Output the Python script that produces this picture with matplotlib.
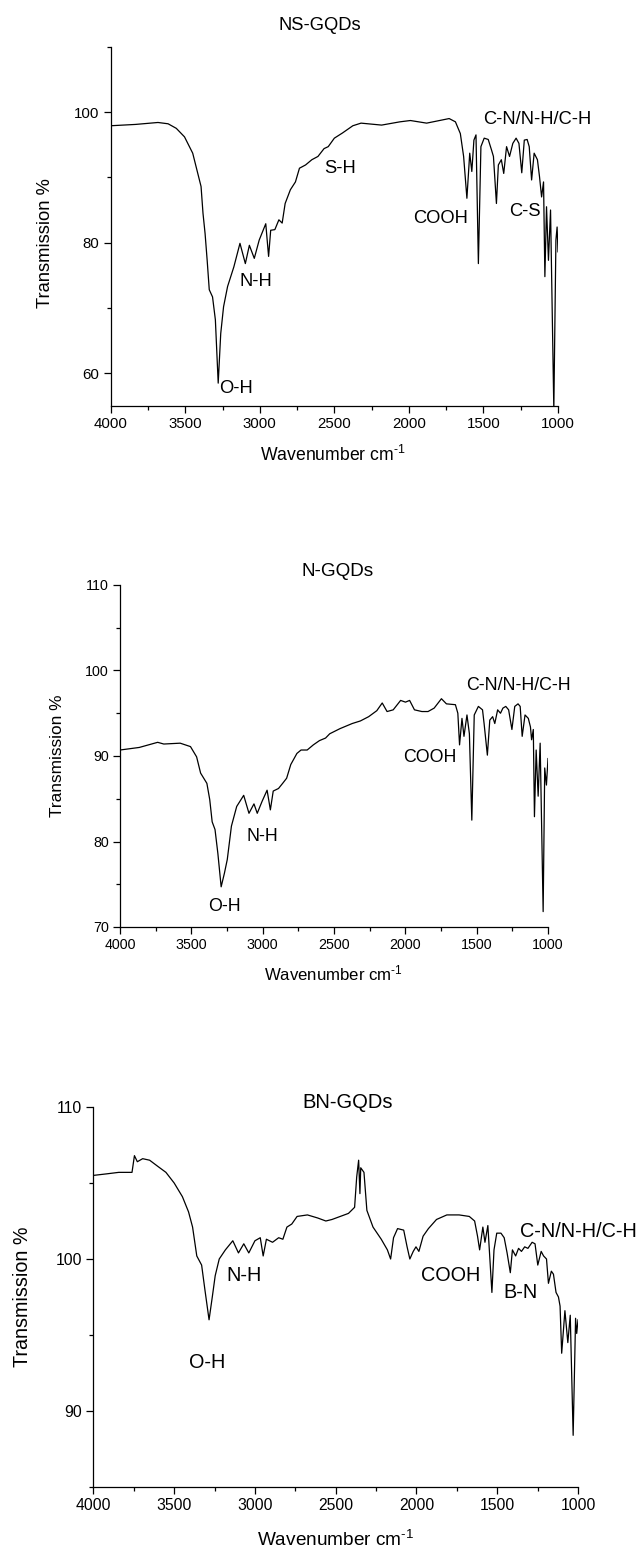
import matplotlib
matplotlib.use("Agg")
import matplotlib.pyplot as plt
from matplotlib.ticker import MultipleLocator

plt.rcParams['font.family'] = ['Liberation Sans', 'DejaVu Sans']
plt.rcParams['mathtext.fontset'] = 'custom'
plt.rcParams['mathtext.rm'] = 'Liberation Sans'
plt.rcParams['mathtext.it'] = 'Liberation Sans'

# NS-GQDs spectrum (wavenumber, transmission %)
ns_wn = [4000, 3835, 3683, 3615, 3560, 3505, 3450, 3394, 3381, 3367, 3353, 3339,
         3317, 3298, 3279, 3262, 3243, 3216, 3174, 3133, 3097, 3070, 3037, 3004,
         2960, 2941, 2927, 2899, 2872, 2850, 2830, 2795, 2761, 2734, 2693, 2651,
         2610, 2569, 2541, 2500, 2445, 2376, 2321, 2183, 2060, 1990, 1881, 1730,
         1688, 1655, 1633, 1611, 1592, 1578, 1564, 1550, 1534, 1517, 1495, 1468,
         1446, 1433, 1413, 1400, 1380, 1364, 1345, 1325, 1303, 1281, 1262, 1243,
         1226, 1207, 1193, 1177, 1160, 1138, 1124, 1110, 1097, 1088, 1077, 1064,
         1050, 1028, 1014, 1006, 1000]
ns_t = [97.9, 98.1, 98.4, 98.2, 97.5, 96.2, 93.7, 88.6, 84.5, 81.4, 77.3, 72.8,
        71.7, 68.2, 58.5, 66.1, 70.2, 73.3, 76.3, 79.9, 76.8, 79.6, 77.6, 80.4,
        82.9, 77.9, 81.9, 82.0, 83.5, 83.0, 86.0, 88.1, 89.3, 91.4, 91.9, 92.7,
        93.2, 94.4, 94.7, 96.0, 96.8, 97.9, 98.3, 98.0, 98.5, 98.7, 98.3, 99.0,
        98.5, 96.7, 93.2, 86.8, 93.7, 90.9, 95.7, 96.5, 76.8, 94.7, 96.0, 95.8,
        94.2, 93.2, 86.0, 91.9, 92.7, 90.6, 94.7, 93.2, 95.2, 96.0, 95.2, 90.7,
        95.7, 95.8, 94.7, 89.6, 93.7, 92.7, 90.1, 87.0, 89.3, 74.8, 85.5, 77.3,
        85.0, 54.5, 80.4, 82.4, 78.6]

# N-GQDs spectrum
n_wn = [4000, 3865, 3736, 3693, 3578, 3506, 3463, 3435, 3391, 3371, 3354, 3334,
        3314, 3291, 3268, 3248, 3219, 3182, 3133, 3096, 3061, 3038, 3004, 2969,
        2946, 2926, 2889, 2860, 2832, 2803, 2760, 2731, 2688, 2645, 2602, 2559,
        2530, 2458, 2372, 2315, 2257, 2200, 2162, 2128, 2085, 2033, 1999, 1970,
        1936, 1884, 1841, 1798, 1747, 1712, 1649, 1632, 1620, 1603, 1589, 1568,
        1551, 1534, 1517, 1488, 1459, 1448, 1425, 1408, 1388, 1373, 1353, 1333,
        1316, 1296, 1276, 1253, 1233, 1210, 1195, 1181, 1161, 1138, 1123, 1115,
        1103, 1095, 1083, 1069, 1055, 1034, 1023, 1011, 1006, 1000]
n_t = [90.7, 91.0, 91.6, 91.4, 91.5, 91.1, 89.9, 88.0, 86.8, 84.9, 82.3, 81.4,
       78.6, 74.7, 76.3, 77.9, 81.8, 84.1, 85.4, 83.3, 84.4, 83.3, 84.7, 86.0,
       83.7, 85.9, 86.2, 86.8, 87.4, 89.0, 90.3, 90.7, 90.7, 91.3, 91.8, 92.1,
       92.6, 93.2, 93.8, 94.1, 94.6, 95.3, 96.2, 95.2, 95.4, 96.5, 96.3, 96.5,
       95.4, 95.2, 95.2, 95.6, 96.7, 96.1, 96.0, 95.0, 91.3, 94.4, 92.3, 94.8,
       92.6, 82.5, 94.8, 95.8, 95.4, 93.8, 90.1, 94.2, 94.6, 93.8, 95.4, 95.0,
       95.6, 95.8, 95.4, 93.1, 95.8, 96.1, 95.8, 92.3, 94.8, 94.4, 93.4, 91.9,
       93.1, 82.9, 90.7, 85.3, 91.5, 71.8, 88.6, 86.6, 88.0, 89.7]

# BN-GQDs spectrum
bn_wn = [4000, 3919, 3843, 3761, 3746, 3728, 3695, 3652, 3602, 3551, 3500, 3449,
         3411, 3386, 3360, 3330, 3310, 3284, 3264, 3246, 3221, 3183, 3137, 3102,
         3069, 3038, 3000, 2967, 2949, 2929, 2891, 2853, 2827, 2802, 2772, 2739,
         2675, 2612, 2561, 2523, 2472, 2421, 2383, 2370, 2358, 2350, 2345, 2325,
         2307, 2269, 2218, 2180, 2160, 2142, 2117, 2079, 2058, 2041, 2020, 2003,
         1985, 1959, 1926, 1876, 1812, 1736, 1673, 1640, 1622, 1609, 1589, 1576,
         1558, 1533, 1520, 1503, 1477, 1457, 1439, 1419, 1406, 1386, 1368, 1350,
         1330, 1310, 1284, 1266, 1249, 1228, 1213, 1195, 1183, 1165, 1152, 1136,
         1121, 1111, 1101, 1081, 1063, 1048, 1030, 1015, 1008, 1000]
bn_t = [105.5, 105.6, 105.7, 105.7, 106.8, 106.4, 106.6, 106.5, 106.1, 105.7,
        105.0, 104.1, 103.1, 102.1, 100.2, 99.6, 98.0, 96.0, 97.5, 98.9, 100.0,
        100.6, 101.2, 100.4, 101.0, 100.4, 101.2, 101.4, 100.2, 101.3, 101.1,
        101.4, 101.3, 102.1, 102.3, 102.8, 102.9, 102.7, 102.5, 102.6, 102.8,
        103.0, 103.4, 105.4, 106.5, 104.3, 106.0, 105.7, 103.2, 102.1, 101.3,
        100.6, 100.0, 101.4, 102.0, 101.9, 100.8, 100.0, 100.5, 100.8, 100.5,
        101.5, 102.0, 102.6, 102.9, 102.9, 102.8, 102.5, 101.5, 100.6, 102.1,
        101.1, 102.2, 97.8, 100.6, 101.7, 101.7, 101.4, 100.4, 99.1, 100.6,
        100.2, 100.7, 100.5, 100.8, 100.7, 101.1, 101.0, 99.6, 100.5, 100.2,
        100.0, 98.4, 99.2, 99.0, 97.8, 97.5, 96.9, 93.8, 96.6, 94.5, 96.3, 88.4,
        96.1, 95.1, 96.0]

ns_labels = [("O-H", 3162, 57.7), ("N-H", 3026, 74.0), ("S-H", 2462, 91.4),
             ("COOH", 1787, 83.7), ("C-S", 1224, 84.7),
             ("C-N/N-H/C-H", 1141, 98.8)]
n_labels = [("O-H", 3267, 72.4), ("N-H", 3003, 80.6), ("COOH", 1831, 89.8),
            ("C-N/N-H/C-H", 1207, 98.2)]
bn_labels = [("O-H", 3297, 93.2), ("N-H", 3069, 98.9), ("COOH", 1787, 98.9),
             ("B-N", 1355, 97.8), ("C-N/N-H/C-H", 1000, 101.8)]

W, H = 643, 1567
fig = plt.figure(figsize=(W / 100, H / 100), dpi=100)

XLABEL = r"Wavenumber cm$^{\text{-1}}$"


def px_axes(l, t, r, b):
    return fig.add_axes([l / W, 1 - b / H, (r - l) / W, (b - t) / H])


def panel(ax, wn, t, ylim, major, minor, labels, fs):
    ax.plot(wn, t, color='black', lw=0.9)
    ax.set_xlim(4000, 1000)
    ax.set_ylim(*ylim)
    ax.xaxis.set_major_locator(MultipleLocator(500))
    ax.xaxis.set_minor_locator(MultipleLocator(250))
    ax.yaxis.set_major_locator(MultipleLocator(major))
    ax.yaxis.set_minor_locator(MultipleLocator(minor))
    for s in ('top', 'right'):
        ax.spines[s].set_visible(False)
    for s in ('left', 'bottom'):
        ax.spines[s].set_linewidth(0.9)
    ax.tick_params(which='major', direction='out', length=5, width=0.9,
                   labelsize=fs['tick'], pad=3)
    ax.tick_params(which='minor', direction='out', length=3, width=0.9)
    for txt, x, y in labels:
        ax.text(x, y, txt, ha='center', va='center', fontsize=fs['ann'],
                clip_on=False)


ax1 = px_axes(110.7, 46.7, 558, 406)
panel(ax1, ns_wn, ns_t, (55, 110), 20, 10, ns_labels,
      {'tick': 10.8, 'ann': 13.2})
ax1.set_yticks([60, 80, 100])
fig.text(320 / W, 1 - 25 / H, "NS-GQDs", ha='center', va='center', fontsize=13.2)
fig.text(45 / W, 1 - 243 / H, "Transmission %", rotation=90, ha='center',
         va='center', fontsize=13.2)
fig.text(333 / W, 1 - 455 / H, XLABEL, ha='center', va='center', fontsize=12.7)

ax2 = px_axes(120, 585, 548, 927)
panel(ax2, n_wn, n_t, (70, 110), 10, 5, n_labels,
      {'tick': 10.3, 'ann': 12.8})
fig.text(338 / W, 1 - 571 / H, "N-GQDs", ha='center', va='center', fontsize=13.6)
fig.text(57 / W, 1 - 756 / H, "Transmission %", rotation=90, ha='center',
         va='center', fontsize=12.4)
fig.text(333 / W, 1 - 973 / H, XLABEL, ha='center', va='center', fontsize=12.1)

ax3 = px_axes(93.4, 1107, 578, 1487)
panel(ax3, bn_wn, bn_t, (85, 110), 10, 5, bn_labels,
      {'tick': 11.3, 'ann': 14.3})
fig.text(348 / W, 1 - 1102 / H, "BN-GQDs", ha='center', va='center', fontsize=14.5)
fig.text(22.5 / W, 1 - 1297 / H, "Transmission %", rotation=90, ha='center',
         va='center', fontsize=14.2)
fig.text(336 / W, 1 - 1540 / H, XLABEL, ha='center', va='center', fontsize=13.7)

fig.savefig("out.png", dpi=100)
